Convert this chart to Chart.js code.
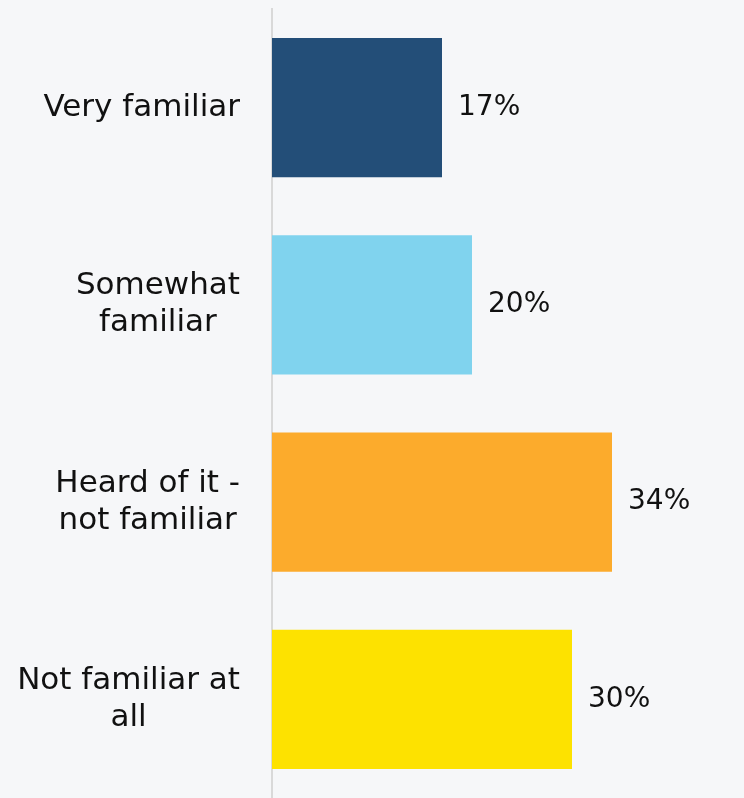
<!DOCTYPE html>
<html>
<head>
<meta charset="utf-8">
<script src="https://cdn.jsdelivr.net/npm/chart.js@4"></script>
<style>
  html, body { margin: 0; padding: 0; background: #f6f7f9; }
  #wrap { width: 744px; height: 798px; }
</style>
</head>
<body>
<div id="wrap"><canvas id="chart"></canvas></div>
<script>
const categories = [
    ['Very familiar'],
    ['Somewhat', 'familiar'],
    ['Heard of it -', 'not familiar'],
    ['Not familiar at', 'all']
];
const values = [17, 20, 34, 30];
const barColors = ['#234e78', '#80d3ee', '#fcab2c', '#fde200'];

const LABEL_FONT = '31px "DejaVu Sans"';
const VALUE_FONT = '28px "DejaVu Sans"';
const LINE_H = 37;

// Draws the category labels (block right aligned, lines centered) and value labels
const labelPlugin = {
    id: 'labels',
    afterDatasetsDraw(chart) {
        const ctx = chart.ctx;
        const yScale = chart.scales.y;
        ctx.save();
        ctx.font = LABEL_FONT;
        ctx.fillStyle = '#111111';
        ctx.textBaseline = 'middle';
        ctx.textAlign = 'center';
        categories.forEach((lines, i) => {
            const y = yScale.getPixelForValue(i);
            const w = Math.max(...lines.map(l => ctx.measureText(l).width));
            const cx = 240 - w / 2;
            const top = y - (lines.length - 1) * LINE_H / 2;
            lines.forEach((l, j) => ctx.fillText(l, cx, top + j * LINE_H));
        });
        ctx.font = VALUE_FONT;
        ctx.textAlign = 'left';
        const meta = chart.getDatasetMeta(0);
        meta.data.forEach((bar, i) => {
            ctx.fillText(values[i] + '%', bar.x + 16, bar.y);
        });
        ctx.restore();
    }
};

new Chart(document.getElementById('chart'), {
    type: 'bar',
    data: {
        labels: categories,
        datasets: [{
            data: values,
            backgroundColor: barColors,
            borderWidth: 0,
            barPercentage: 0.705,
            categoryPercentage: 1
        }]
    },
    options: {
        indexAxis: 'y',
        responsive: true,
        maintainAspectRatio: false,
        animation: false,
        layout: { padding: { top: 9, right: 2, bottom: 0, left: 0 } },
        plugins: {
            legend: { display: false },
            tooltip: { enabled: false }
        },
        scales: {
            x: {
                display: false,
                min: 0,
                max: 47
            },
            y: {
                grid: { display: false, drawTicks: false },
                border: { display: true, color: '#d9d9d9', width: 2 },
                ticks: { display: false },
                afterFit(scale) { scale.width = 272; }
            }
        }
    },
    plugins: [labelPlugin]
});
</script>
</body>
</html>
